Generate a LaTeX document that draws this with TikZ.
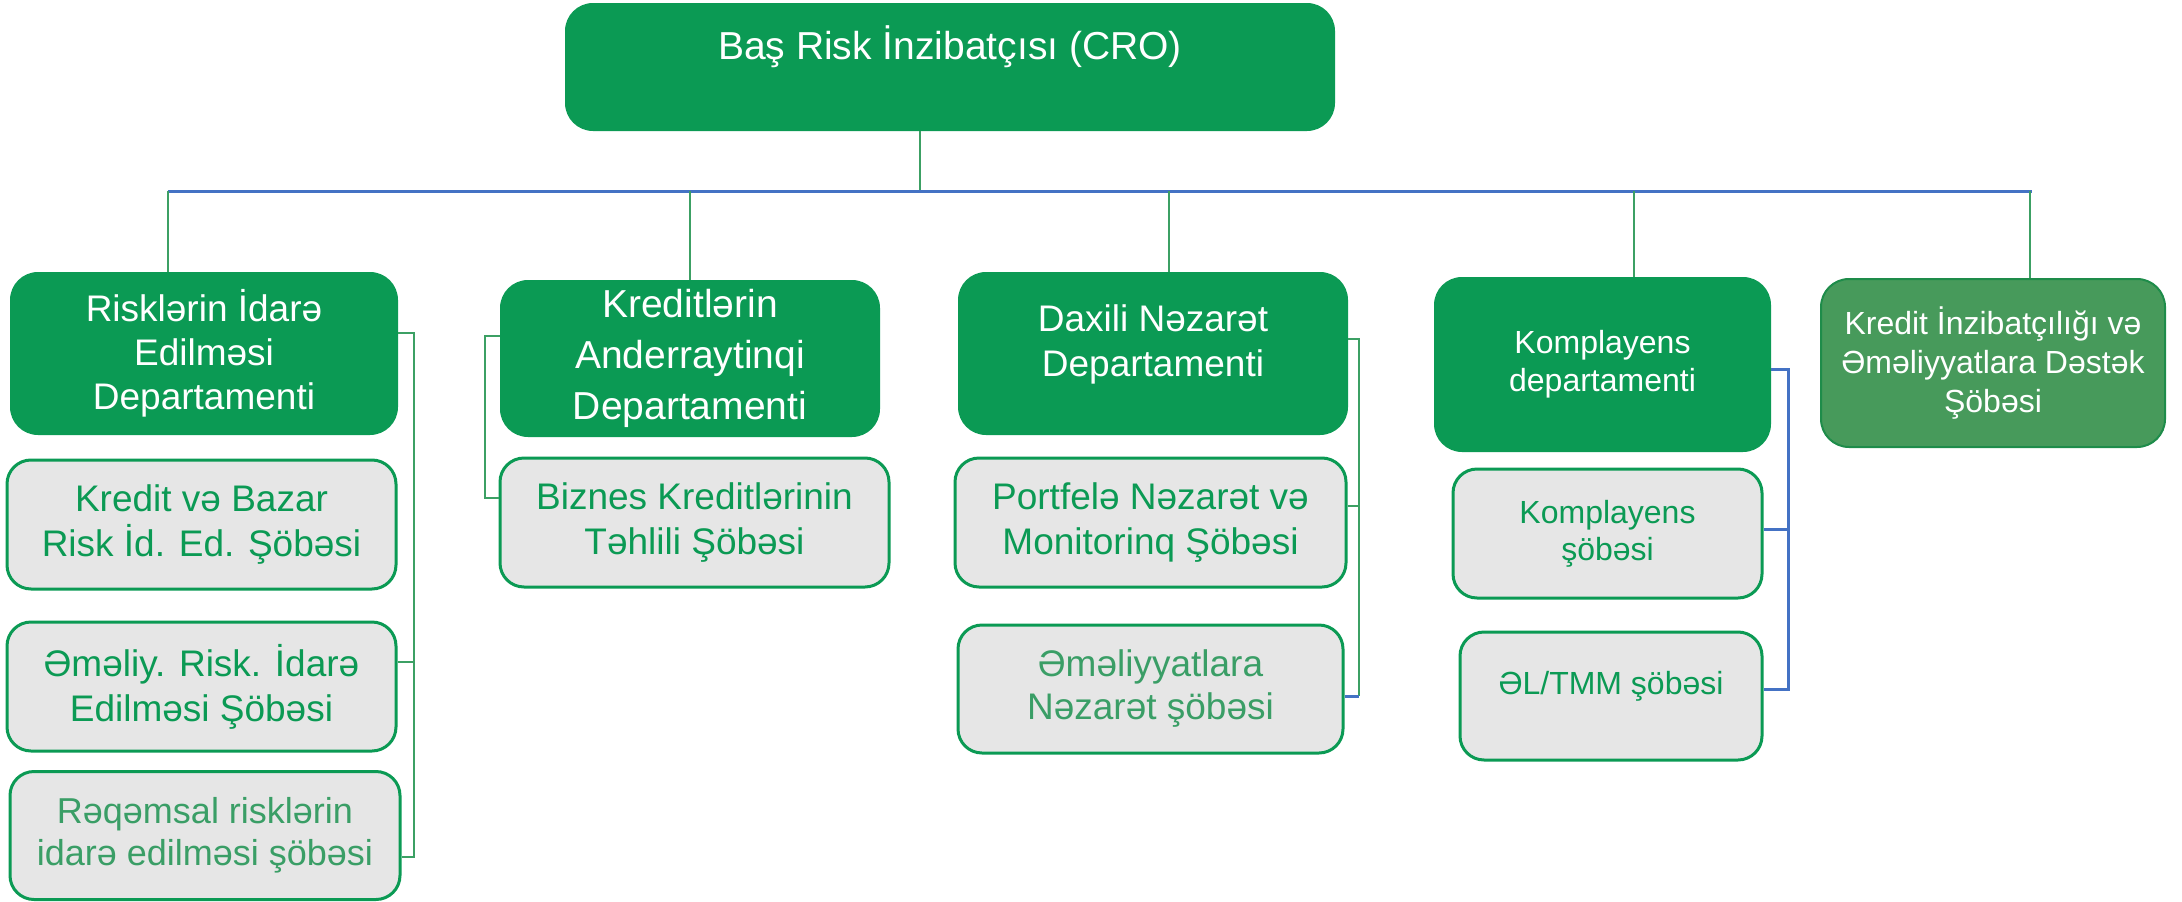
\documentclass[tikz,border=0pt]{standalone}
\usepackage{fontspec}
\setmainfont{Liberation Sans}
\usepackage{tikz}
\usetikzlibrary{positioning}
\definecolor{bankgreen}{RGB}{11,154,84}
\definecolor{softgreen}{RGB}{71,154,91}
\definecolor{edgegreen}{RGB}{30,140,74}
\definecolor{linegreen}{RGB}{60,160,100}
\definecolor{palegreen}{RGB}{58,158,102}
\definecolor{busblue}{RGB}{68,114,196}
\definecolor{boxgray}{RGB}{230,230,230}
\newcommand{\Fs}[2]{\fontsize{#1}{#2}\selectfont}

\begin{document}
\begin{tikzpicture}[x=1pt, y=-1pt,
  dept/.style={rectangle, rounded corners=28pt, fill=bankgreen, text=white, align=center, inner sep=0pt},
  unit/.style={rectangle, rounded corners=24pt, fill=boxgray, draw=bankgreen, line width=3pt, text=bankgreen, align=center, inner sep=0pt},
  link/.style={draw=linegreen, line width=1.5pt},
  bus/.style={draw=busblue, line width=3pt}]

\useasboundingbox (0,0) rectangle (2182,902);

% top
\node[dept, minimum width=770pt, minimum height=128pt, font=\Fs{39}{48}] (cro) at (950,67) {Baş Risk İnzibatçısı (CRO)\\ \mbox{}};

% departments
\node[dept, minimum width=388pt, minimum height=163pt, font=\Fs{37}{44}] (risk) at (204,353.5) {Risklərin İdarə\\Edilməsi\\Departamenti};
\node[dept, minimum width=380pt, minimum height=157pt, font=\Fs{39}{51}] (kred) at (690,358.5) {Kreditlərin\\Anderraytinqi\\Departamenti};
\node[dept, minimum width=390pt, minimum height=163pt, font=\Fs{37}{45}] (dax) at (1153,353.5) {Daxili Nəzarət\\Departamenti\\[-19pt]\mbox{}};
\node[dept, minimum width=337pt, minimum height=175pt, font=\Fs{32}{38}] (komp) at (1602.5,364.5) {Komplayens\\departamenti};
\node[dept, fill=softgreen, draw=edgegreen, line width=2pt, minimum width=344pt, minimum height=168pt, font=\Fs{32}{39}] (kia) at (1993,363) {Kredit İnzibatçılığı və\\Əməliyyatlara Dəstək\\Şöbəsi};

% units
\node[unit, minimum width=389pt, minimum height=129pt, font=\Fs{37}{45}] (kbr) at (201.5,524.5) {Kredit və Bazar\\Risk İd. Ed. Şöbəsi};
\node[unit, minimum width=389pt, minimum height=129pt, font=\Fs{37}{45}] (oper) at (201.5,686.5) {Əməliy. Risk. İdarə\\Edilməsi Şöbəsi};
\node[unit, text=palegreen, minimum width=390pt, minimum height=128pt, font=\Fs{36}{42}] (rdig) at (205,835.5) {Rəqəmsal risklərin\\idarə edilməsi şöbəsi};
\node[unit, minimum width=389pt, minimum height=129pt, font=\Fs{37}{45}] (biz) at (694.5,522.5) {Biznes Kreditlərinin\\Təhlili Şöbəsi};
\node[unit, minimum width=391pt, minimum height=129pt, font=\Fs{37}{45}] (port) at (1150.5,522.5) {Portfelə Nəzarət və\\Monitorinq Şöbəsi};
\node[unit, text=palegreen, minimum width=385pt, minimum height=128pt, font=\Fs{37}{43}] (onez) at (1150.5,689) {Əməliyyatlara\\Nəzarət şöbəsi};
\node[unit, minimum width=309pt, minimum height=129pt, font=\Fs{32}{37}] (kms) at (1607.5,533.5) {Komplayens\\şöbəsi};
\node[unit, minimum width=302pt, minimum height=128pt, font=\Fs{32}{38}] (aml) at (1611,696) {ƏL/TMM şöbəsi\\[-12pt]\mbox{}};

% bus
\coordinate (trunk) at (920,191);
\draw[link] (cro.south -| trunk) -- (trunk);
\draw[bus] (168,191) -- (2032,191);
\foreach \n/\x in {risk/168, kred/690, dax/1169, komp/1634, kia/2030}
  \draw[link] (\x,191) -- (\n.north -| \x,0);

% brackets
\draw[link] (risk.east |- 0,333) -- (414,333) -- (414,857) -- (rdig.east |- 0,857);
\draw[link] (oper.east |- 0,662) -- (414,662);
\draw[link] (kred.west |- 0,336) -- (485,336) -- (485,498) -- (biz.west |- 0,498);
\draw[link] (dax.east |- 0,339) -- (1359,339) -- (1359,696);
\draw[link] (port.east |- 0,506) -- (1359,506);
\draw[bus] (onez.east |- 0,696) -- (1359,696);
\draw[bus] (komp.east |- 0,369) -- (1788,369) -- (1788,689) -- (aml.east |- 0,689);
\draw[bus] (kms.east |- 0,529) -- (1788,529);

\end{tikzpicture}
\end{document}
